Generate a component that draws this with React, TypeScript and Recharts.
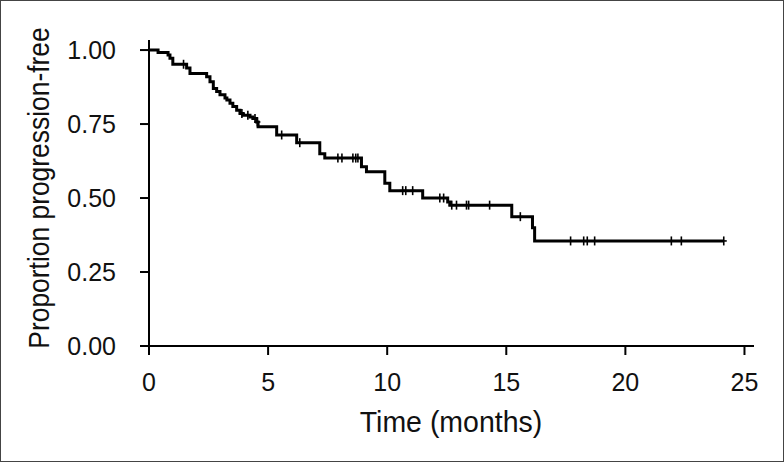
import { ComposedChart, Line, Scatter, XAxis, YAxis } from "recharts";

// Kaplan-Meier estimate: step times (months) and survival after each step.
const eventTimes = [
  0, 0.38, 0.8, 0.88, 1.0, 1.58, 1.72, 2.42, 2.56, 2.7, 2.84, 2.98, 3.19, 3.27, 3.4, 3.52, 3.68,
  3.82, 3.95, 4.24, 4.36, 4.52, 4.58, 5.36, 6.2, 7.17, 7.38, 8.92, 9.13, 9.9, 10.11, 11.49, 12.54,
  12.63, 15.23, 16.1, 16.19, 24.13,
];
const survival = [
  1.0, 0.992, 0.983, 0.972, 0.952, 0.939, 0.921, 0.91, 0.893, 0.87, 0.86, 0.849, 0.838, 0.831, 0.82,
  0.809, 0.797, 0.786, 0.78, 0.774, 0.769, 0.757, 0.741, 0.713, 0.687, 0.65, 0.635, 0.606, 0.589,
  0.55, 0.525, 0.5, 0.487, 0.476, 0.437, 0.4, 0.355, 0.355,
];
// Censored observations (tick marks on the curve).
const censorTimes = [
  1.45, 3.9, 4.15, 4.45, 4.55, 5.57, 6.33, 7.93, 8.1, 8.56, 8.68, 8.77, 10.65, 10.78, 11.07, 12.21,
  12.37, 12.71, 12.91, 13.33, 13.42, 14.3, 15.59, 17.7, 18.25, 18.4, 18.71, 21.93, 22.35, 24.13,
];
const xTicks = [0, 5, 10, 15, 20, 25];
const yTicks = [0, 0.25, 0.5, 0.75, 1];

const FONT = '"Liberation Sans", Arial, sans-serif';

const curve = eventTimes.map((t, i) => ({ t, s: survival[i] }));

function survivalAt(t: number) {
  let s = survival[0];
  for (let i = 0; i < eventTimes.length; i++) {
    if (eventTimes[i] <= t) s = survival[i];
  }
  return s;
}

const censored = censorTimes.map((t) => ({ t, s: survivalAt(t) }));

function CensorMark(props: any) {
  const { cx, cy } = props;
  if (cx == null || cy == null) return null;
  return (
    <g stroke="#000" strokeWidth={1.6}>
      <line x1={cx} y1={cy - 4.5} x2={cx} y2={cy + 4.5} />
      <line x1={cx - 3} y1={cy} x2={cx + 3} y2={cy} />
    </g>
  );
}

const TICK = { fontFamily: FONT, fontSize: 25, fill: "#111" };
const AXIS_LINE = { stroke: "#000", strokeWidth: 2 };

// the original uses a condensed face, so the titles are squeezed horizontally
const XTitle = () => (
  <g transform="translate(451 432) scale(0.95 1)">
    <text x={0} y={0} textAnchor="middle" fontFamily={FONT} fontSize={30} fill="#111">
      Time (months)
    </text>
  </g>
);

const YTitle = () => (
  <g transform="translate(49 188) rotate(-90) scale(0.88 1)">
    <text x={0} y={0} textAnchor="middle" fontFamily={FONT} fontSize={30} fill="#111">
      Proportion progression-free
    </text>
  </g>
);

export default function App() {
  return (
    <div
      style={{
        position: "fixed",
        left: 0,
        top: 0,
        width: 784,
        height: 462,
        boxSizing: "border-box",
        border: "1px solid #444",
        background: "#fff",
      }}
    >
      <div style={{ position: "absolute", left: -1, top: -1 }}>
        <ComposedChart
          width={784}
          height={462}
          margin={{ top: 40, right: 30, bottom: 86, left: 89 }}
        >
          <XAxis
            type="number"
            dataKey="t"
            domain={[0, 25.4]}
            ticks={xTicks}
            allowDataOverflow
            height={30}
            tick={TICK}
            tickSize={9}
            tickMargin={18}
            axisLine={AXIS_LINE}
            tickLine={AXIS_LINE}
            label={{ content: XTitle }}
          />
          <YAxis
            type="number"
            dataKey="s"
            domain={[0, 1.034]}
            ticks={yTicks}
            allowDataOverflow
            width={60}
            tick={TICK}
            tickSize={9}
            tickMargin={24}
            tickFormatter={(v: number) => v.toFixed(2)}
            axisLine={AXIS_LINE}
            tickLine={AXIS_LINE}
            label={{ content: YTitle }}
          />
          <Line
            data={curve}
            dataKey="s"
            type="stepAfter"
            stroke="#000"
            strokeWidth={3}
            dot={false}
            activeDot={false}
            isAnimationActive={false}
          />
          <Scatter
            data={censored}
            dataKey="s"
            shape={<CensorMark />}
            isAnimationActive={false}
          />
        </ComposedChart>
      </div>
    </div>
  );
}
